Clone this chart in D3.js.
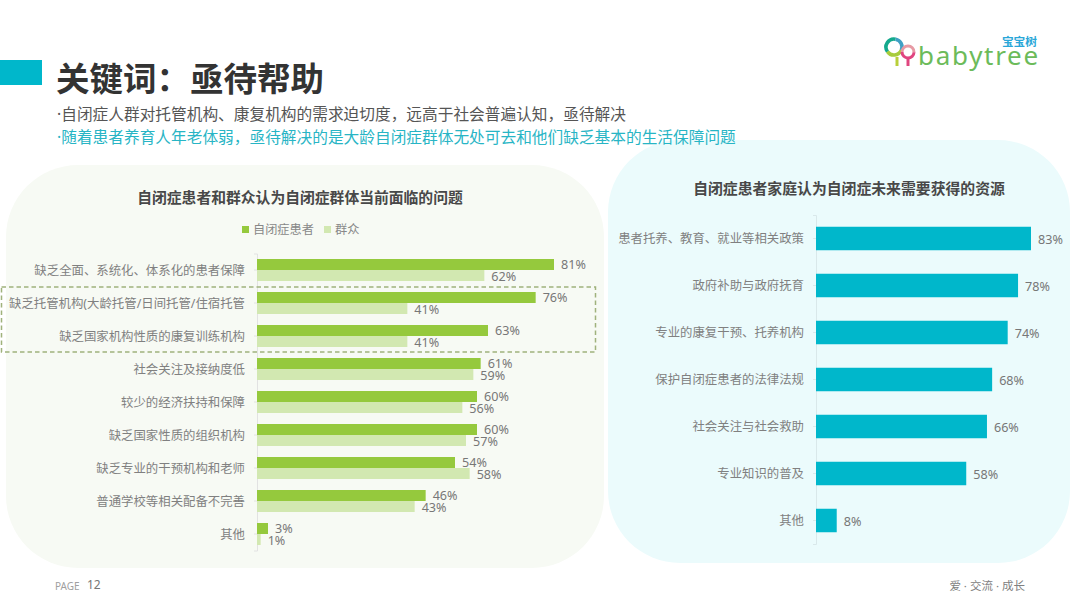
<!DOCTYPE html>
<html lang="zh">
	<head>
		<meta charset="utf-8">
		<title>关键词:亟待帮助</title>
		<script src="https://cdn.jsdelivr.net/npm/d3@7"></script>
		<style>
			html, body { margin: 0; padding: 0; background: #fff; }
			svg { display: block; }
			svg text { font-family: "Noto Sans", "Noto Sans CJK SC", sans-serif; }
		</style>
	</head>
	<body>
		<svg id="chart" width="1080" height="608"></svg>
		<script>
		var leftCategories = ["缺乏全面、系统化、体系化的患者保障", "缺乏托管机构(大龄托管/日间托管/住宿托管", "缺乏国家机构性质的康复训练机构", "社会关注及接纳度低", "较少的经济扶持和保障", "缺乏国家性质的组织机构", "缺乏专业的干预机构和老师", "普通学校等相关配备不完善", "其他"]
		var patientValues = [81, 76, 63, 61, 60, 60, 54, 46, 3]
		var publicValues = [62, 41, 41, 59, 56, 57, 58, 43, 1]
		var seriesNames = ["自闭症患者", "群众"]
		var rightCategories = ["患者托养、教育、就业等相关政策", "政府补助与政府抚育", "专业的康复干预、托养机构", "保护自闭症患者的法律法规", "社会关注与社会救助", "专业知识的普及", "其他"]
		var rightValues = [83, 78, 74, 68, 66, 58, 8]

		var svg = d3.select("#chart")
		var green = "#95c93d", lightGreen = "#d2e8b1", teal = "#00b7cb"

		function addText(x, y, str, size, fill, anchor, weight){
			return svg.append("text")
				.attr("x", x).attr("y", y)
				.attr("font-size", size)
				.attr("fill", fill)
				.attr("text-anchor", anchor || "start")
				.attr("font-weight", weight || 400)
				.text(str)
		}

		// background panels go first, the subtitle runs over the right one
		svg.append("rect").attr("x", 6).attr("y", 165).attr("width", 598).attr("height", 403).attr("rx", 72).attr("fill", "#f7faf4")
		svg.append("rect").attr("x", 608).attr("y", 140).attr("width", 462).attr("height", 423).attr("rx", 72).attr("fill", "#ebfbfc")

		// header
		svg.append("rect").attr("x", 0).attr("y", 60).attr("width", 42).attr("height", 25).attr("fill", teal)
		addText(56, 91, "关键词\uFF1A亟待帮助", 33.5, "#333", "start", 700)
		addText(57, 120, "·自闭症人群对托管机构、康复机构的需求迫切度\uFF0C远高于社会普遍认知\uFF0C亟待解决", 15.7, "#555")
		addText(57, 143, "·随着患者养育人年老体弱\uFF0C亟待解决的是大龄自闭症群体无处可去和他们缺乏基本的生活保障问题", 15.7, "#28b5c5")

		// left chart
		addText(300, 203, "自闭症患者和群众认为自闭症群体当前面临的问题", 14.8, "#484848", "middle", 700)
		var legendX = [242, 324]
		seriesNames.forEach(function(name, i){
			svg.append("rect").attr("x", legendX[i]).attr("y", 226).attr("width", 7).attr("height", 7)
				.attr("fill", i == 0 ? green : lightGreen)
			addText(legendX[i] + 11, 234, name, 12.2, "#888")
		})

		var xLeft = d3.scaleLinear().domain([0, 81]).range([257, 554])
		var yLeft = d3.scaleBand().domain(leftCategories).range([253.5, 550.5])
		var barH = 11

		var axisLeft = svg.append("g")
			.attr("transform", "translate(257,0)")
			.call(d3.axisLeft(yLeft).tickSize(3).tickPadding(9))
		axisLeft.select(".domain").attr("stroke", "#e2e2e2")
		axisLeft.selectAll(".tick line").attr("stroke", "#e2e2e2")
		axisLeft.selectAll(".tick text").attr("font-size", 12.4).attr("fill", "#808080")
			.attr("font-family", '"Noto Sans", "Noto Sans CJK SC", sans-serif')
			.attr("dy", "0.4em")

		var centerY = function(c){ return yLeft(c) + yLeft.bandwidth() / 2 }

		svg.append("g").selectAll("rect").data(leftCategories).enter().append("rect")
			.attr("x", xLeft(0))
			.attr("y", function(d){ return centerY(d) - barH })
			.attr("width", function(d, i){ return xLeft(patientValues[i]) - xLeft(0) })
			.attr("height", barH)
			.attr("fill", green)
		svg.append("g").selectAll("rect").data(leftCategories).enter().append("rect")
			.attr("x", xLeft(0))
			.attr("y", centerY)
			.attr("width", function(d, i){ return xLeft(publicValues[i]) - xLeft(0) })
			.attr("height", barH)
			.attr("fill", lightGreen)

		svg.append("g").selectAll("text").data(leftCategories).enter().append("text")
			.attr("x", function(d, i){ return xLeft(patientValues[i]) + 7 })
			.attr("y", function(d){ return centerY(d) - 1 })
			.attr("font-size", 12.6).attr("fill", "#777")
			.text(function(d, i){ return patientValues[i] + "%" })
		svg.append("g").selectAll("text").data(leftCategories).enter().append("text")
			.attr("x", function(d, i){ return xLeft(publicValues[i]) + 7 })
			.attr("y", function(d){ return centerY(d) + 10.5 })
			.attr("font-size", 12.6).attr("fill", "#777")
			.text(function(d, i){ return publicValues[i] + "%" })

		// dashed highlight box
		svg.append("rect").attr("x", 1.5).attr("y", 287).attr("width", 594).attr("height", 65)
			.attr("fill", "none").attr("stroke", "#a0b27c").attr("stroke-width", 1.5).attr("stroke-dasharray", "4.5 3")

		// right chart
		addText(849, 194, "自闭症患者家庭认为自闭症未来需要获得的资源", 14.85, "#484848", "middle", 700)

		var xRight = d3.scaleLinear().domain([0, 83]).range([816, 1031])
		var yRight = d3.scaleBand().domain(rightCategories).range([215, 544]).paddingInner(0.5).paddingOuter(0.25)

		var axisRight = svg.append("g")
			.attr("transform", "translate(816,0)")
			.call(d3.axisLeft(yRight).tickSize(3).tickPadding(9))
		axisRight.select(".domain").attr("stroke", "#d9e8ea")
		axisRight.selectAll(".tick line").attr("stroke", "#d9e8ea")
		axisRight.selectAll(".tick text").attr("font-size", 12.4).attr("fill", "#808080")
			.attr("font-family", '"Noto Sans", "Noto Sans CJK SC", sans-serif')
			.attr("dy", "0.4em")

		svg.append("g").selectAll("rect").data(rightCategories).enter().append("rect")
			.attr("x", xRight(0))
			.attr("y", function(d){ return yRight(d) })
			.attr("width", function(d, i){ return xRight(rightValues[i]) - xRight(0) })
			.attr("height", yRight.bandwidth())
			.attr("fill", teal)
		svg.append("g").selectAll("text").data(rightCategories).enter().append("text")
			.attr("x", function(d, i){ return xRight(rightValues[i]) + 7 })
			.attr("y", function(d){ return yRight(d) + yRight.bandwidth() / 2 + 5 })
			.attr("font-size", 12.6).attr("fill", "#777")
			.text(function(d, i){ return rightValues[i] + "%" })

		// footer
		addText(55, 590, "PAGE", 10, "#a0a0a0")
		addText(87, 589, "12", 12, "#777")
		addText(1025, 590, "爱 · 交流 · 成长", 11.5, "#808080", "end")

		// logo, two rings on stems
		var logo = svg.append("g")
		var ringArc = d3.arc()
		function ring(cx, cy, r, w, from, to, color){
			logo.append("path")
				.attr("transform", "translate(" + cx + "," + cy + ")")
				.attr("d", ringArc({innerRadius: r - w / 2, outerRadius: r + w / 2, startAngle: from, endAngle: to}))
				.attr("fill", color)
		}
		ring(894, 47, 8, 3.6, -2.2, 0.2, "#14a98d")
		ring(894, 47, 8, 3.6, 0.2, 2.0, "#3f9fc4")
		ring(894, 47, 8, 3.6, 2.0, 4.1, "#a8cc3c")
		ring(908, 52, 6, 3, -1.6, 1.6, "#e79aa4")
		ring(908, 52, 6, 3, 1.6, 4.7, "#e0457f")
		logo.append("line").attr("x1", 897).attr("y1", 57).attr("x2", 897).attr("y2", 66).attr("stroke", "#b9cf3a").attr("stroke-width", 3)
		logo.append("line").attr("x1", 908).attr("y1", 58).attr("x2", 908).attr("y2", 66).attr("stroke", "#e0457f").attr("stroke-width", 3)
		addText(918, 65, "babytree", 26, "#6cbb5a").attr("font-family", "Inter").attr("letter-spacing", 1.7)
		addText(1037, 46, "宝宝树", 11.7, "#2aa7d8", "end", 700)
		</script>
	</body>
</html>
